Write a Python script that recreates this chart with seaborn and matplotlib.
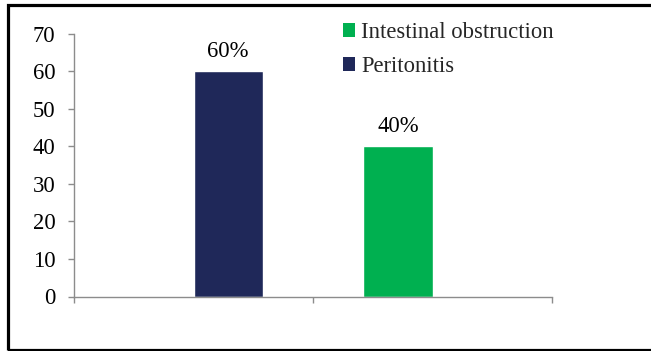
import matplotlib
matplotlib.use("Agg")
import matplotlib.pyplot as plt
from matplotlib.patches import Rectangle
import seaborn as sns
import pandas as pd

# Data
categories = ["Peritonitis", "Intestinal obstruction"]
series_names = ["Intestinal obstruction", "Peritonitis"]
intestinal_values = [0, 40]
peritonitis_values = [60, 0]
colors = {"Intestinal obstruction": "#00B050", "Peritonitis": "#1F2859"}
y_ticks = [0, 10, 20, 30, 40, 50, 60, 70]

df = pd.DataFrame({
    "category": categories * 2,
    "series": [series_names[0]] * 2 + [series_names[1]] * 2,
    "value": intestinal_values + peritonitis_values,
})

sns.set_theme(style="white")
plt.rcParams["font.family"] = ["Liberation Serif", "DejaVu Serif"]
FS = 16.3

W, H = 651, 351
fig = plt.figure(figsize=(W / 100, H / 100), dpi=100)
ax = fig.add_axes([74 / W, 1 - 296.5 / H, (552 - 74) / W, (296.5 - 33.7) / H])

sns.barplot(data=df, x="category", y="value", hue="series",
            order=categories, hue_order=series_names, palette=colors,
            width=0.578, dodge=True, saturation=1, ax=ax, legend=False)

ax.set_xlim(-0.5, 1.5)
ax.set_ylim(0, 70)
ax.set_yticks(y_ticks)
ax.set_xticks([-0.5, 0.5, 1.5])
ax.set_xticklabels([])
ax.set_xlabel("")
ax.set_ylabel("")

axis_gray = "#8C8C8C"
for side in ["top", "right"]:
    ax.spines[side].set_visible(False)
for side in ["left", "bottom"]:
    ax.spines[side].set_color(axis_gray)
    ax.spines[side].set_linewidth(1.0)
ax.tick_params(axis="y", direction="out", length=4.5, width=1.0, color=axis_gray,
               labelsize=FS, labelcolor="black", pad=9, left=True)
ax.tick_params(axis="x", direction="out", length=4.5, width=1.0, color=axis_gray,
               bottom=True)
for lbl in ax.get_yticklabels():
    lbl.set_fontfamily("Liberation Serif")

# Value labels above the visible bars
for container in ax.containers:
    labels = [f"{v:g}%" if v > 0 else "" for v in container.datavalues]
    ax.bar_label(container, labels=labels, padding=7, fontsize=FS, color="black",
                 fontfamily="Liberation Serif")

# Legend with small square keys
handles = [Rectangle((0, 0), 1, 1, facecolor=colors[s], edgecolor="none") for s in series_names]
fig.legend(handles, series_names, loc="upper left",
           bbox_to_anchor=(343 / W, 1 - 22 / H), bbox_transform=fig.transFigure,
           frameon=False, handlelength=0.55, handleheight=0.55,
           handletextpad=0.25, labelspacing=0.58, borderpad=0, borderaxespad=0,
           prop={"family": "Liberation Serif", "size": FS})

# Outer frame around the chart area
fig.patches.append(Rectangle((7.5 / W, 1.5 / H), 1.05, (351 - 1.5 - 4.5) / H,
                             transform=fig.transFigure, fill=False,
                             edgecolor="black", linewidth=2.3, clip_on=False))

fig.savefig("out.png", dpi=100)
